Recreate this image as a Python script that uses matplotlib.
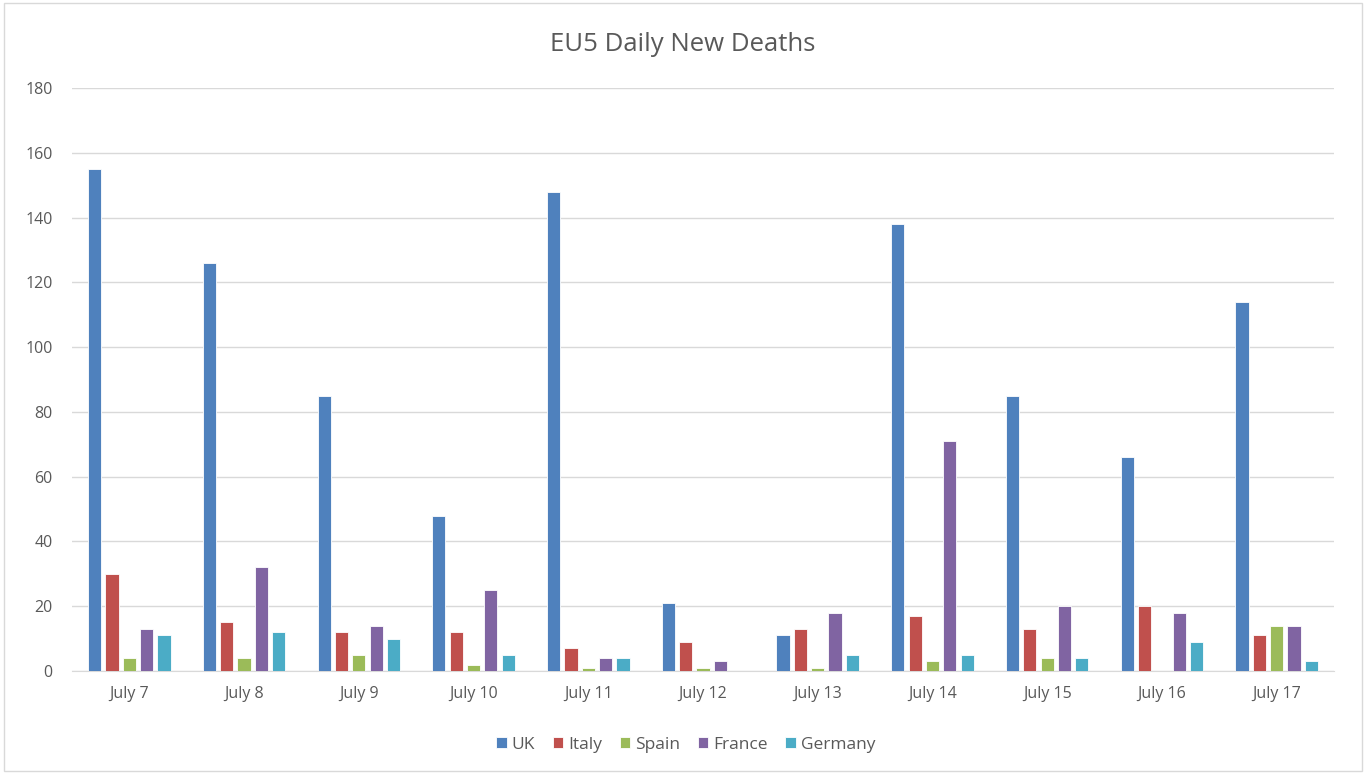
import numpy as np
import matplotlib.pyplot as plt
from matplotlib.patches import Rectangle

plt.rcParams['font.family'] = ['Open Sans', 'DejaVu Sans']

# Data
days = ["July 7", "July 8", "July 9", "July 10", "July 11", "July 12",
        "July 13", "July 14", "July 15", "July 16", "July 17"]
uk = [155, 126, 85, 48, 148, 21, 11, 138, 85, 66, 114]
italy = [30, 15, 12, 12, 7, 9, 13, 17, 13, 20, 11]
spain = [4, 4, 5, 2, 1, 1, 1, 3, 4, 0, 14]
france = [13, 32, 14, 25, 4, 3, 18, 71, 20, 18, 14]
germany = [11, 12, 10, 5, 4, 0, 5, 5, 4, 9, 3]

series = [("UK", uk, "#4F81BD"), ("Italy", italy, "#C0504D"),
          ("Spain", spain, "#9BBB59"), ("France", france, "#8064A2"),
          ("Germany", germany, "#4BACC6")]

fig = plt.figure(figsize=(13.66, 7.74), dpi=100)
ax = fig.add_axes([0.0527, 0.1331, 0.9239, 0.7532])

x = np.arange(len(days))
pitch = 0.151
width = 0.115
for i, (name, vals, col) in enumerate(series):
    ax.bar(x + (i - 2) * pitch, vals, width, color=col, label=name,
           edgecolor="white", linewidth=0.6, zorder=3)

ax.set_xlim(-0.5, len(days) - 0.5)
ax.set_ylim(0, 180)
ax.set_yticks(range(0, 181, 20))
ax.set_xticks(x)
ax.set_xticklabels(days)
ax.tick_params(axis="both", length=0, colors="#595959", labelsize=11.5)
ax.tick_params(axis="x", pad=11)
ax.tick_params(axis="y", pad=14)
ax.grid(axis="y", color="#D9D9D9", linewidth=1, zorder=0)
for s in ["top", "right", "left"]:
    ax.spines[s].set_visible(False)
ax.spines["bottom"].set_color("#D9D9D9")

fig.text(0.5, 0.943, "EU5 Daily New Deaths", ha="center", va="center",
         fontsize=18.5, color="#595959")

fig.legend(loc="center", bbox_to_anchor=(0.502, 0.038), ncol=5, frameon=False,
           fontsize=12.5, handlelength=0.6, handleheight=0.6, columnspacing=1.0,
           handletextpad=0.3, labelcolor="#595959")

fig.patches.append(Rectangle((0.003, 0.004), 0.994, 0.992, transform=fig.transFigure,
                             fill=False, edgecolor="#D9D9D9", linewidth=1))

fig.savefig("out.png", dpi=100)
